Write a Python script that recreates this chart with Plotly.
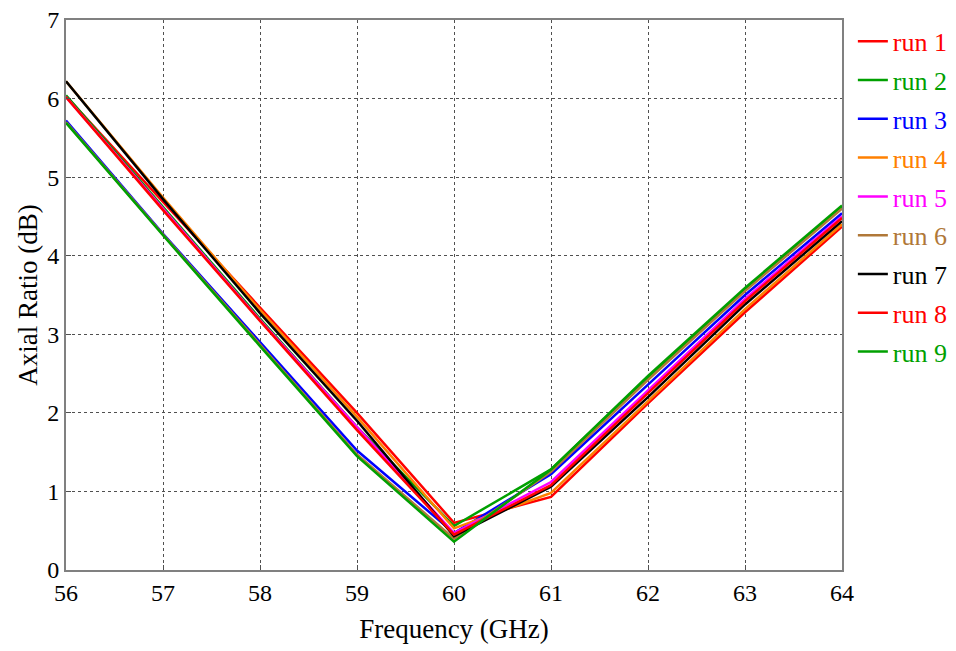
import plotly.graph_objects as go

freq = [56, 57, 58, 59, 60, 61, 62, 63, 64]

run1 = [6.03, 4.68, 3.34, 2.00, 0.60, 0.93, 2.12, 3.28, 4.37]
run2 = [6.04, 4.62, 3.20, 1.82, 0.56, 1.28, 2.45, 3.57, 4.62]
run3 = [5.72, 4.28, 2.90, 1.52, 0.47, 1.22, 2.36, 3.50, 4.54]
run4 = [6.22, 4.74, 3.31, 1.95, 0.53, 0.98, 2.15, 3.32, 4.40]
run5 = [6.02, 4.60, 3.18, 1.82, 0.47, 1.12, 2.28, 3.45, 4.50]
run6 = [5.70, 4.27, 2.87, 1.47, 0.40, 1.25, 2.42, 3.55, 4.60]
run7 = [6.22, 4.72, 3.27, 1.90, 0.43, 1.06, 2.20, 3.38, 4.44]
run8 = [6.02, 4.58, 3.17, 1.78, 0.45, 1.08, 2.25, 3.42, 4.48]
run9 = [5.69, 4.26, 2.85, 1.45, 0.36, 1.28, 2.47, 3.59, 4.64]

names = ["run 1", "run 2", "run 3", "run 4", "run 5", "run 6", "run 7", "run 8", "run 9"]
series = [run1, run2, run3, run4, run5, run6, run7, run8, run9]
colors = ["#FF0000", "#00A000", "#0000FF", "#FF8000", "#FF00FF",
          "#B07838", "#000000", "#FF0000", "#00A000"]

FONT = "Liberation Serif, Times New Roman, serif"
TICK_FS = 24
TITLE_FS = 27
LEG_FS = 26

fig = go.Figure()
for i, (n, ys, c) in enumerate(zip(names, series, colors)):
    fig.add_trace(go.Scatter(
        x=freq, y=ys, mode="lines",
        name=f"<span style='color:{c}'>{n}</span>",
        line=dict(color=c, width=2.5),
        legendgroup=f"g{i}",
    ))

fig.update_layout(
    width=956, height=651,
    margin=dict(l=66, r=114, t=20, b=81, autoexpand=False),
    paper_bgcolor="white", plot_bgcolor="white",
    font=dict(family=FONT, size=TICK_FS, color="black"),
    showlegend=True,
    legend=dict(
        x=1.014, y=1.004, xanchor="left", yanchor="top",
        font=dict(family=FONT, size=LEG_FS),
        tracegroupgap=2, itemwidth=30, maxheight=620,
        bgcolor="rgba(0,0,0,0)", borderwidth=0,
    ),
    xaxis=dict(
        range=[56, 64], dtick=1, tick0=56, automargin=False,
        showline=True, linecolor="#808080", linewidth=2, mirror=True,
        showgrid=True, gridcolor="#505050", griddash="3px,3px", gridwidth=1,
        ticks="inside", ticklen=5, tickcolor="#505050",
        zeroline=False,
        title=dict(text="Frequency (GHz)", font=dict(family=FONT, size=TITLE_FS), standoff=14),
        tickfont=dict(family=FONT, size=TICK_FS),
    ),
    yaxis=dict(
        range=[0, 7], dtick=1, tick0=0, automargin=False,
        showline=True, linecolor="#808080", linewidth=2, mirror=True,
        showgrid=True, gridcolor="#505050", griddash="3px,3px", gridwidth=1,
        ticks="inside", ticklen=5, tickcolor="#505050",
        zeroline=False,
        title=dict(text="Axial Ratio (dB)", font=dict(family=FONT, size=TITLE_FS), standoff=2),
        tickfont=dict(family=FONT, size=TICK_FS),
    ),
)

fig.write_html("out.html", config={"displayModeBar": False},
               post_script="document.body.style.margin='0';")
